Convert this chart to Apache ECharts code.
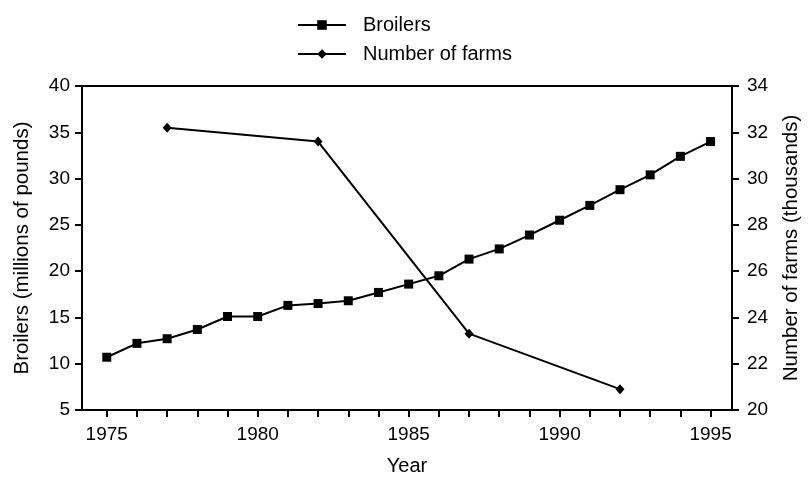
<!DOCTYPE html>
<html>
<head>
<meta charset="utf-8">
<script src="https://cdn.jsdelivr.net/npm/echarts@6/dist/echarts.min.js"></script>
<style>
html,body{margin:0;padding:0;background:#fff;}
#chart{width:810px;height:481px;}
</style>
</head>
<body>
<div id="chart"></div>
<script>
const broilerYears = [1975,1976,1977,1978,1979,1980,1981,1982,1983,1984,1985,1986,1987,1988,1989,1990,1991,1992,1993,1994,1995];
const broilerValues = [10.7,12.2,12.7,13.7,15.1,15.1,16.3,16.5,16.8,17.7,18.6,19.5,21.3,22.4,23.9,25.5,27.1,28.8,30.4,32.4,34.0];
const farmYears = [1977,1982,1987,1992];
const farmValues = [32.2,31.6,23.3,20.9];
const xTickYears = [1975,1976,1977,1978,1979,1980,1981,1982,1983,1984,1985,1986,1987,1988,1989,1990,1991,1992,1993,1994,1995];
const xLabelYears = [1975,1980,1985,1990,1995];

const font = 'Liberation Sans, Arial, sans-serif';
const chart = echarts.init(document.getElementById('chart'), null, {renderer:'canvas'});
chart.setOption({
  animation:false,
  backgroundColor:'#fff',
  textStyle:{fontFamily:font,color:'#000'},
  legend:{
    orient:'vertical', left:292, top:10, itemWidth:48, itemHeight:12, itemGap:9,
    textStyle:{fontFamily:font,fontSize:20,color:'#000',padding:[0,0,0,12]},
    data:['Broilers','Number of farms']
  },
  grid:{left:82,right:71,top:86,bottom:64,show:true,borderColor:'#000',borderWidth:2,backgroundColor:'transparent'},
  xAxis:{
    type:'value', min:1974.18, max:1995.71,
    name:'Year', nameLocation:'middle', nameGap:46,
    nameTextStyle:{fontFamily:font,fontSize:20,color:'#000'},
    axisLine:{lineStyle:{color:'#000',width:2}},
    axisTick:{show:true,length:7,lineStyle:{color:'#000',width:2},customValues:xTickYears},
    axisLabel:{fontFamily:font,fontSize:19,color:'#000',margin:15,customValues:xLabelYears,formatter:v=>String(v)},
    splitLine:{show:false}
  },
  yAxis:[
    {type:'value',min:5,max:40,interval:5,position:'left',
     name:'Broilers (millions of pounds)',nameLocation:'middle',nameGap:49,nameRotate:90,
     nameTextStyle:{fontFamily:font,fontSize:20.5,color:'#000'},
     axisLine:{show:true,lineStyle:{color:'#000',width:2}},
     axisTick:{show:true,length:7,lineStyle:{color:'#000',width:2}},
     axisLabel:{fontFamily:font,fontSize:19,color:'#000',margin:12},
     splitLine:{show:false}},
    {type:'value',min:20,max:34,interval:2,position:'right',
     name:'Number of farms (thousands)',nameLocation:'middle',nameGap:49,nameRotate:90,
     nameTextStyle:{fontFamily:font,fontSize:20.5,color:'#000'},
     axisLine:{show:true,lineStyle:{color:'#000',width:2}},
     axisTick:{show:true,length:7,lineStyle:{color:'#000',width:2}},
     axisLabel:{fontFamily:font,fontSize:19,color:'#000',margin:15},
     splitLine:{show:false}}
  ],
  series:[
    {name:'Broilers',type:'line',yAxisIndex:0,
     data:broilerYears.map((y,i)=>[y,broilerValues[i]]),
     symbol:'rect',symbolSize:9,
     lineStyle:{color:'#000',width:2},itemStyle:{color:'#000'}},
    {name:'Number of farms',type:'line',yAxisIndex:1,
     data:farmYears.map((y,i)=>[y,farmValues[i]]),
     symbol:'diamond',symbolSize:[9,10],
     lineStyle:{color:'#000',width:2},itemStyle:{color:'#000'}}
  ]
});
</script>
</body>
</html>
